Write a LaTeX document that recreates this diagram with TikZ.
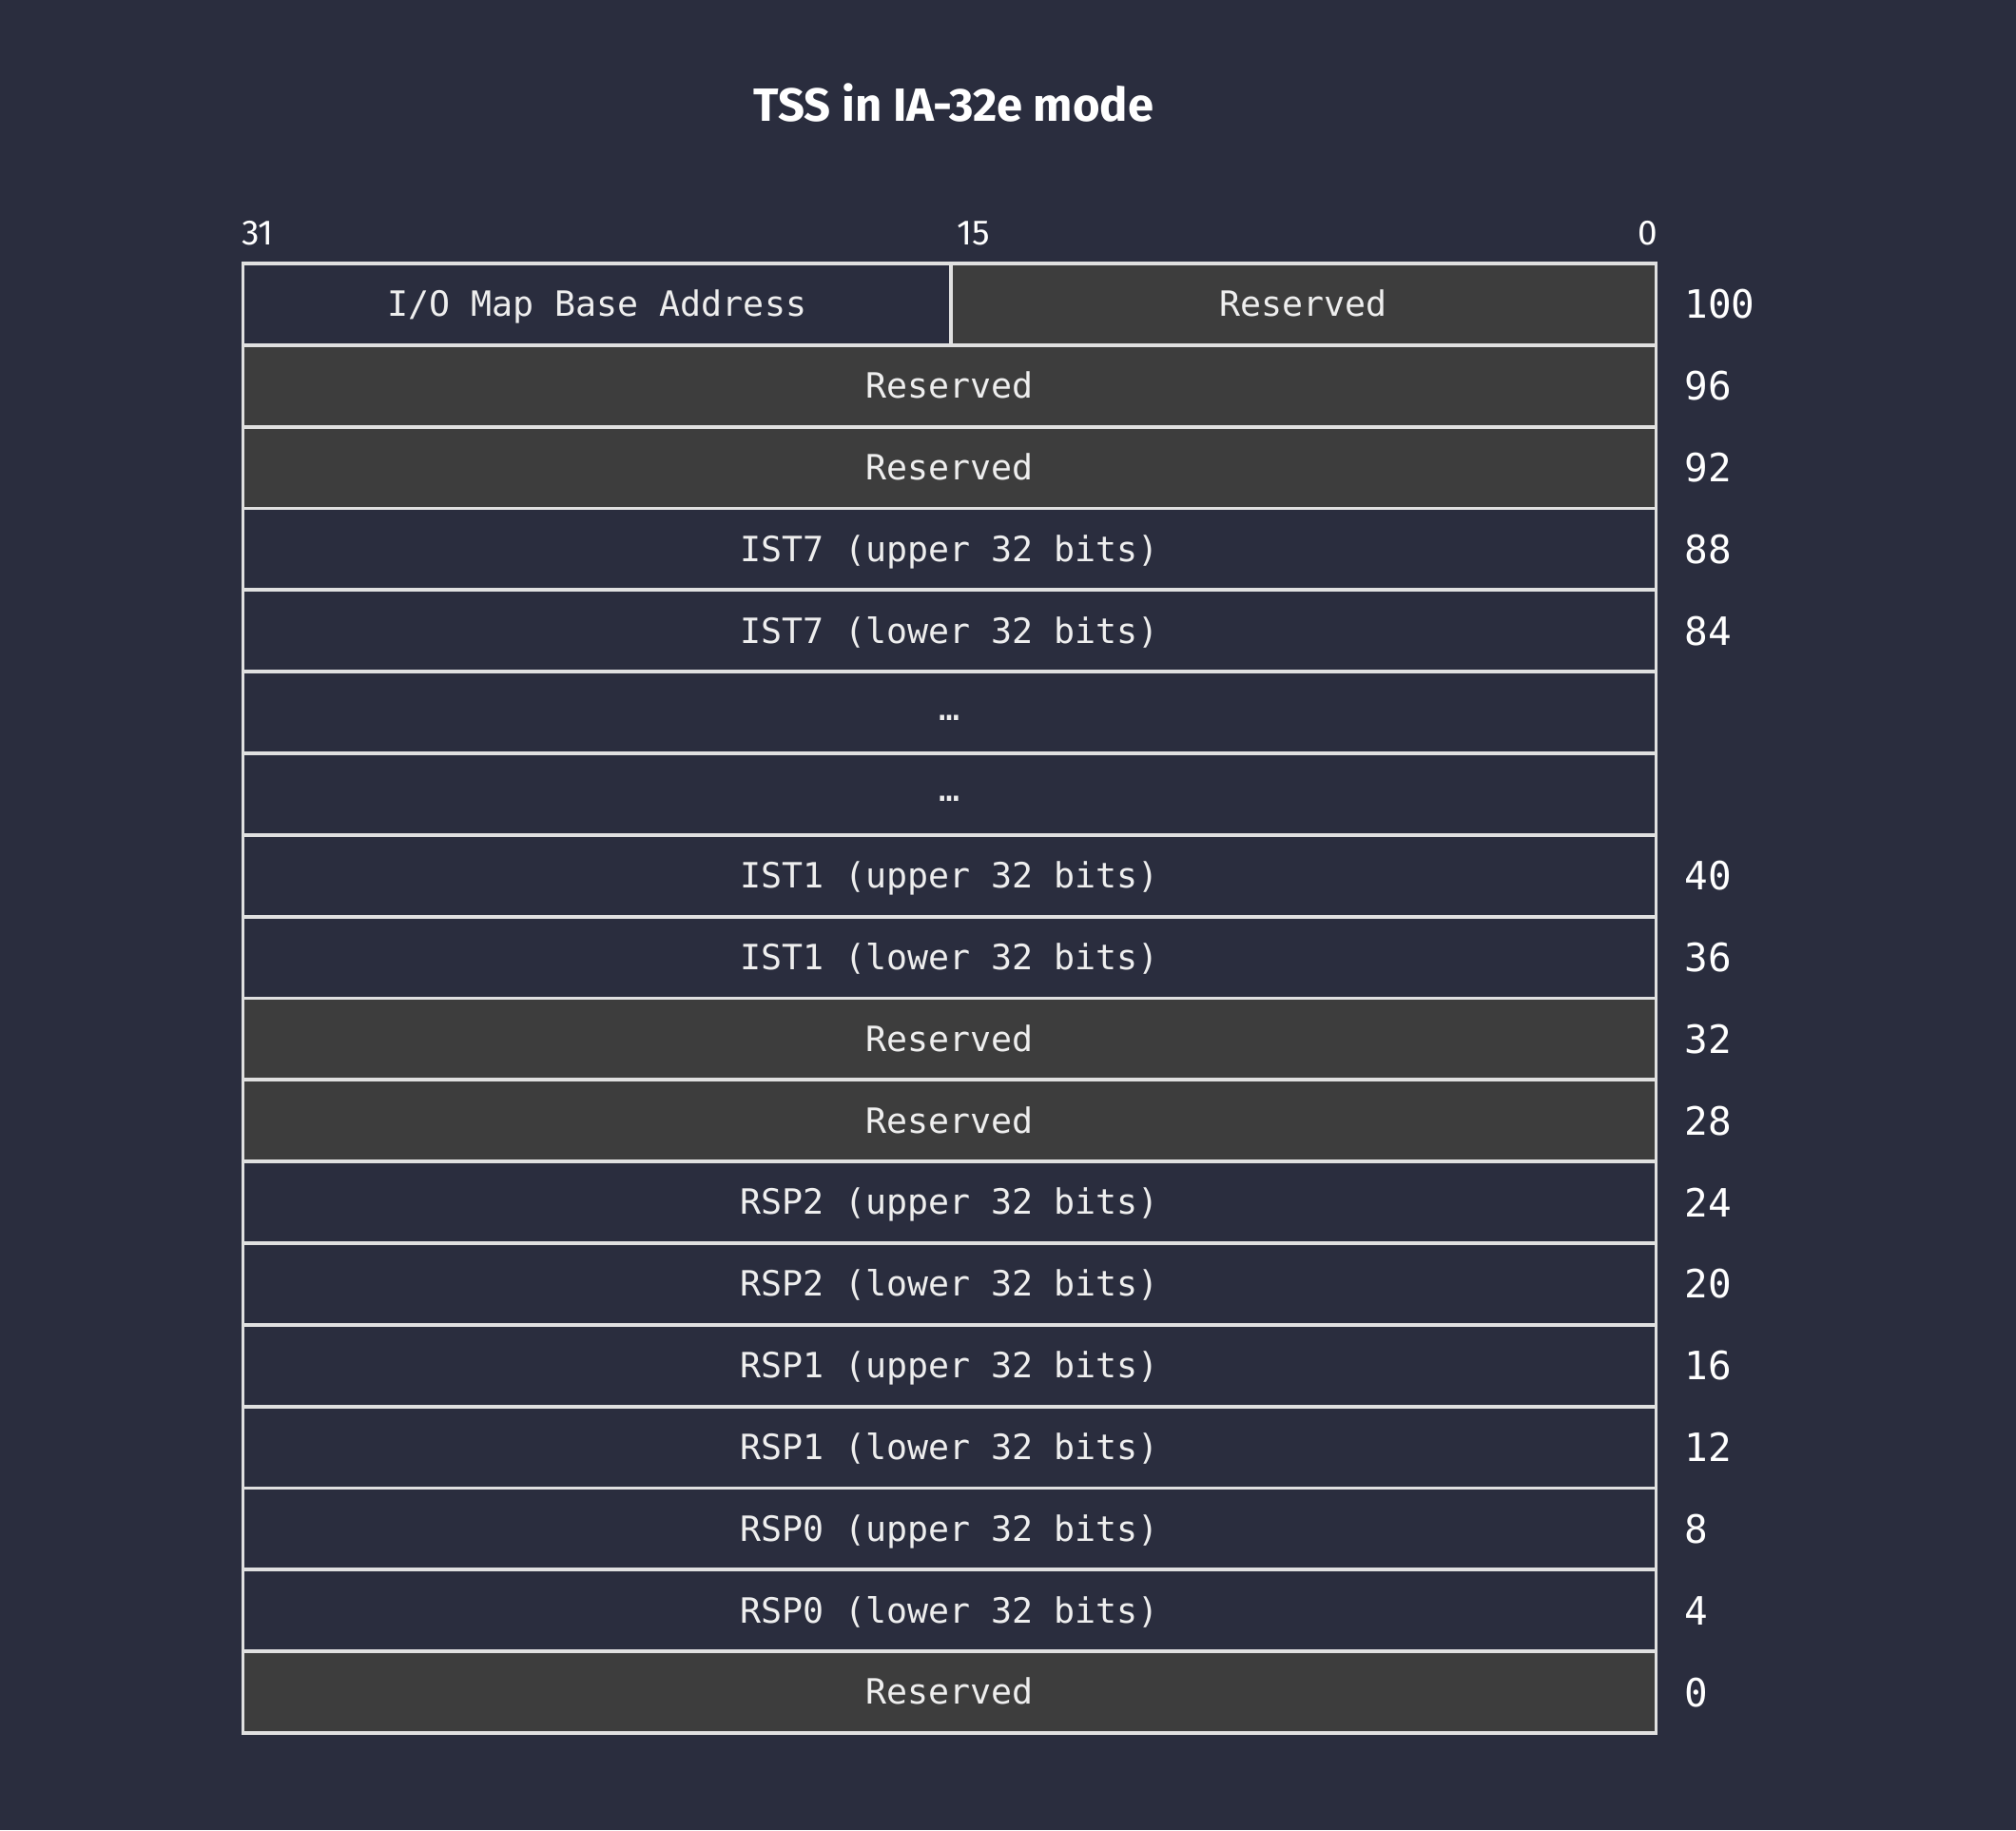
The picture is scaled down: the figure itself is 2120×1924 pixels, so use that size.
\documentclass[tikz,border=0pt]{standalone}
\usepackage{fontspec}
\setmainfont{Fira Sans}
\setmonofont{DejaVu Sans Mono}
\definecolor{bg}{HTML}{2A2D3E}
\definecolor{resv}{HTML}{3D3D3D}
\definecolor{edge}{HTML}{E0E0E0}
\definecolor{txt}{HTML}{EEEEEE}
\begin{document}
\begin{tikzpicture}[x=0.5pt,y=-0.5pt,
  cell/.style={draw=edge, line width=1.9pt, minimum height=42.92pt, inner sep=0pt,
    text=txt, text height=1.3em, text depth=0.02em,
    font=\ttfamily\fontsize{18.3}{20}\selectfont},
  plaincell/.style={cell, fill=bg},
  resvcell/.style={cell, fill=resv},
  fullrow/.style={minimum width=743pt},
  offs/.style={anchor=west, text=white, inner sep=0pt,
    font=\ttfamily\fontsize{20.5}{24}\selectfont},
  bitlbl/.style={text=white, inner sep=0pt, font=\fontsize{18.5}{22}\selectfont},
  titlestyle/.style={text=white, inner sep=0pt, font=\bfseries\fontsize{24.5}{28}\selectfont}]
\fill[bg] (0,0) rectangle (2120,1924);
\useasboundingbox (0,0) rectangle (2120,1924);

\node[titlestyle] (title) at (1003,108) {TSS in IA-32e mode};

\node[bitlbl, anchor=west] (b31) at (254,245) {31};
\node[bitlbl, anchor=west] (b15) at (1006,245) {15};
\node[bitlbl, anchor=east] (b0) at (1744,245) {0};

% top row
\node[plaincell, minimum width=372.25pt] (iomap) at (627.75,319.9) {I/O Map Base Address};
\node[resvcell, minimum width=370.75pt] (rtop) at (1370.75,319.9) {Reserved};

\foreach \i/\t/\s in {
  1/Reserved/resvcell,
  2/Reserved/resvcell,
  3/IST7 (upper 32 bits)/plaincell,
  4/IST7 (lower 32 bits)/plaincell,
  5/\raisebox{0.13em}{…}/plaincell,
  6/\raisebox{0.13em}{…}/plaincell,
  7/IST1 (upper 32 bits)/plaincell,
  8/IST1 (lower 32 bits)/plaincell,
  9/Reserved/resvcell,
  10/Reserved/resvcell,
  11/RSP2 (upper 32 bits)/plaincell,
  12/RSP2 (lower 32 bits)/plaincell,
  13/RSP1 (upper 32 bits)/plaincell,
  14/RSP1 (lower 32 bits)/plaincell,
  15/RSP0 (upper 32 bits)/plaincell,
  16/RSP0 (lower 32 bits)/plaincell,
  17/Reserved/resvcell}
  \node[\s, fullrow] (row\i) at (998.5,{277+85.833*(\i+0.5)}) {\t};

\foreach \i/\n in {0/100,1/96,2/92,3/88,4/84,7/40,8/36,9/32,10/28,11/24,12/20,13/16,14/12,15/8,16/4,17/0}
  \node[offs] (off\i) at (1771,{277+85.833*(\i+0.5)}) {\n};
\end{tikzpicture}
\end{document}
